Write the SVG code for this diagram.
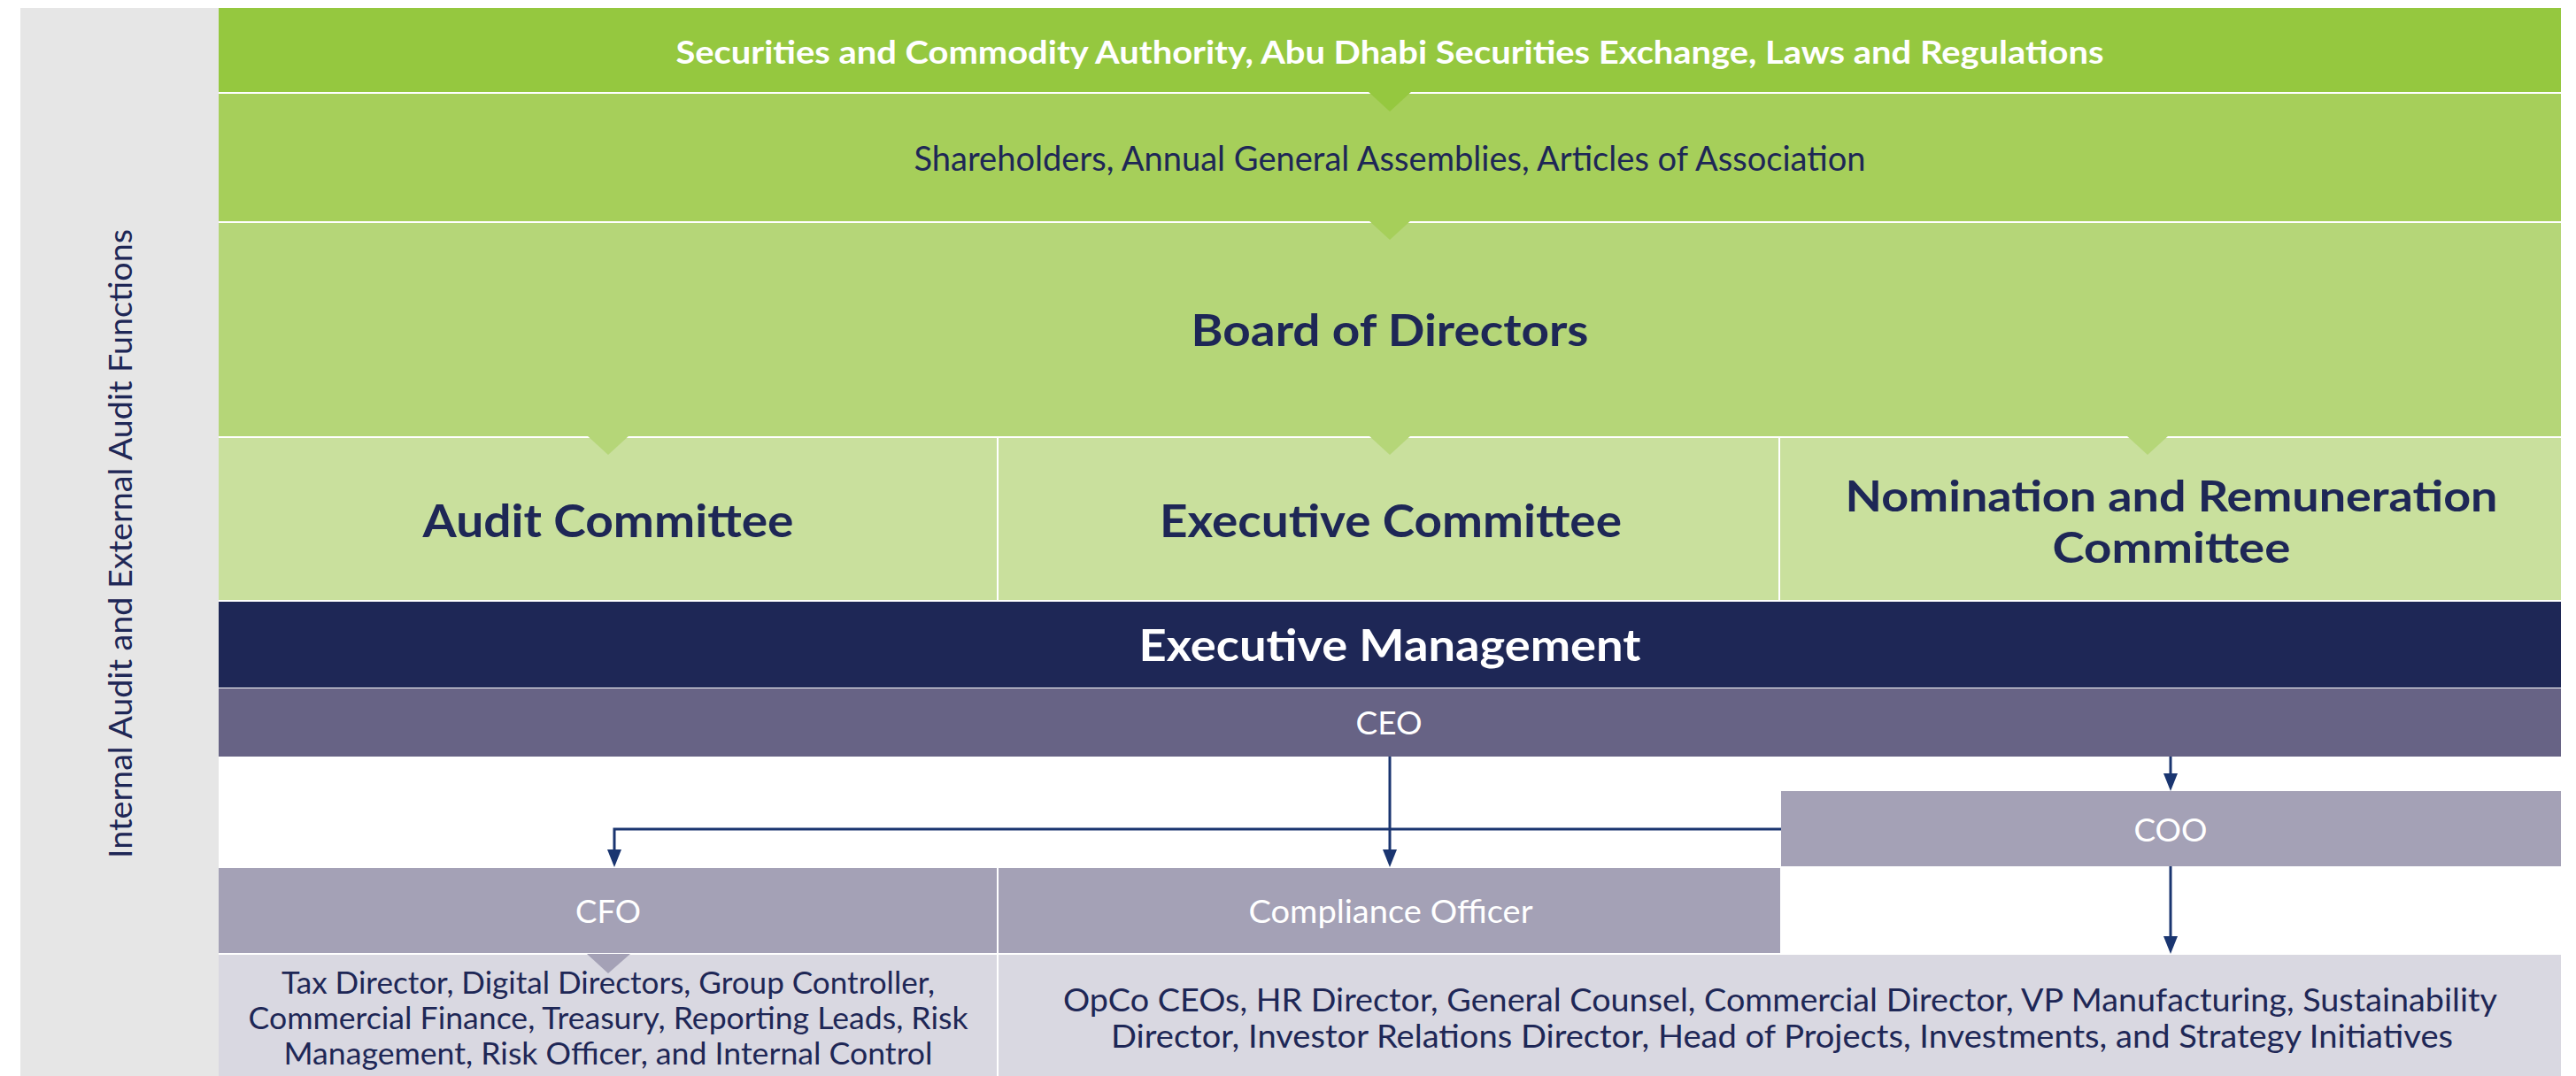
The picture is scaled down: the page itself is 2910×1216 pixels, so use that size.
<svg xmlns="http://www.w3.org/2000/svg" width="2910" height="1216" viewBox="0 0 2910 1216">
<style>
.b{font-family:Lato,"Liberation Sans",sans-serif;font-weight:bold;text-anchor:middle}
.r{font-family:Lato,"Liberation Sans",sans-serif;font-weight:normal;text-anchor:middle}
.w{fill:#FFFFFF}
.n{fill:#1E2756}
.con{fill:none;stroke:#1A3570;stroke-width:3}
.ah{fill:#1A3570}
</style>
<rect width="2910" height="1216" fill="#FFFFFF"/>
<g id="audit-functions">
<rect x="23" y="9" width="224" height="1207" fill="#E6E6E6"/>
<text class="r n" font-size="36" transform="translate(149 614.5) rotate(-90)" textLength="711" lengthAdjust="spacingAndGlyphs">Internal Audit and External Audit Functions</text>
</g>
<g id="regulators">
<rect x="247" y="9" width="2646" height="95" fill="#95C83F"/>
<text class="b w" x="1570" y="72" font-size="37" textLength="1613" lengthAdjust="spacingAndGlyphs">Securities and Commodity Authority, Abu Dhabi Securities Exchange, Laws and Regulations</text>
</g>
<g id="shareholders">
<rect x="247" y="106" width="2646" height="144" fill="#A6CF5A"/>
<text class="r n" x="1570" y="193" font-size="38" textLength="1075" lengthAdjust="spacingAndGlyphs">Shareholders, Annual General Assemblies, Articles of Association</text>
</g>
<g id="board">
<rect x="247" y="252" width="2646" height="241" fill="#B5D678"/>
<text class="b n" x="1570" y="391" font-size="50" textLength="449" lengthAdjust="spacingAndGlyphs">Board of Directors</text>
</g>
<g id="audit-committee">
<rect x="247" y="495" width="879" height="183" fill="#C9E09D"/>
<text class="b n" x="687" y="607" font-size="52" textLength="419" lengthAdjust="spacingAndGlyphs">Audit Committee</text>
</g>
<g id="executive-committee">
<rect x="1128" y="495" width="881" height="183" fill="#C9E09D"/>
<text class="b n" x="1571" y="607" font-size="52" textLength="522" lengthAdjust="spacingAndGlyphs">Executive Committee</text>
</g>
<g id="nrc">
<rect x="2011" y="495" width="882" height="183" fill="#C9E09D"/>
<text class="b n" x="2453" y="578" font-size="48" textLength="737" lengthAdjust="spacingAndGlyphs">Nomination and Remuneration</text>
<text class="b n" x="2453" y="636" font-size="48" textLength="269" lengthAdjust="spacingAndGlyphs">Committee</text>
</g>
<g id="triangles">
<polygon points="1545,103 1595,103 1570,126" fill="#95C83F"/>
<polygon points="1546,249 1594,249 1570,271" fill="#A6CF5A"/>
<polygon points="663,492 711,492 687,514" fill="#B5D678"/>
<polygon points="1546,492 1594,492 1570,514" fill="#B5D678"/>
<polygon points="2402,492 2450,492 2426,514" fill="#B5D678"/>
</g>
<g id="executive-management">
<rect x="247" y="680" width="2646" height="97" fill="#1E2756"/>
<text class="b w" x="1570" y="747" font-size="50" textLength="567" lengthAdjust="spacingAndGlyphs">Executive Management</text>
</g>
<g id="ceo">
<rect x="247" y="778" width="2646" height="77" fill="#676385"/>
<text class="r w" x="1569" y="830" font-size="37" textLength="75" lengthAdjust="spacingAndGlyphs">CEO</text>
</g>
<g id="coo">
<rect x="2012" y="894" width="881" height="85" fill="#A4A1B6"/>
<text class="r w" x="2452" y="951" font-size="37" textLength="83" lengthAdjust="spacingAndGlyphs">COO</text>
</g>
<g id="cfo">
<rect x="247" y="981" width="879" height="96" fill="#A4A1B6"/>
<text class="r w" x="687" y="1043" font-size="37" textLength="74" lengthAdjust="spacingAndGlyphs">CFO</text>
</g>
<g id="compliance">
<rect x="1128" y="981" width="883" height="96" fill="#A4A1B6"/>
<text class="r w" x="1571" y="1043" font-size="37" textLength="321" lengthAdjust="spacingAndGlyphs">Compliance Officer</text>
</g>
<g id="finance-team">
<rect x="247" y="1079" width="879" height="137" fill="#D9D8E1"/>
<polygon points="663,1078 712,1078 687,1100" fill="#A4A1B6"/>
<text class="r n" x="687" y="1123" font-size="35" textLength="738" lengthAdjust="spacingAndGlyphs">Tax Director, Digital Directors, Group Controller,</text>
<text class="r n" x="687" y="1163" font-size="35" textLength="813" lengthAdjust="spacingAndGlyphs">Commercial Finance, Treasury, Reporting Leads, Risk</text>
<text class="r n" x="687" y="1203" font-size="35" textLength="733" lengthAdjust="spacingAndGlyphs">Management, Risk Officer, and Internal Control</text>
</g>
<g id="operations-team">
<rect x="1128" y="1079" width="1765" height="137" fill="#D9D8E1"/>
<text class="r n" x="2011" y="1143" font-size="37" textLength="1620" lengthAdjust="spacingAndGlyphs">OpCo CEOs, HR Director, General Counsel, Commercial Director, VP Manufacturing, Sustainability</text>
<text class="r n" x="2013" y="1184" font-size="37" textLength="1516" lengthAdjust="spacingAndGlyphs">Director, Investor Relations Director, Head of Projects, Investments, and Strategy Initiatives</text>
</g>
<g id="connectors">
<path class="con" d="M1570 855 V962"/>
<polygon class="ah" points="1562,960 1578,960 1570,980"/>
<path class="con" d="M2012 937 H694 V962"/>
<polygon class="ah" points="686,960 702,960 694,980"/>
<path class="con" d="M2452 855 V876"/>
<polygon class="ah" points="2444,874 2460,874 2452,894"/>
<path class="con" d="M2452 979 V1060"/>
<polygon class="ah" points="2444,1058 2460,1058 2452,1078"/>
</g>
</svg>
